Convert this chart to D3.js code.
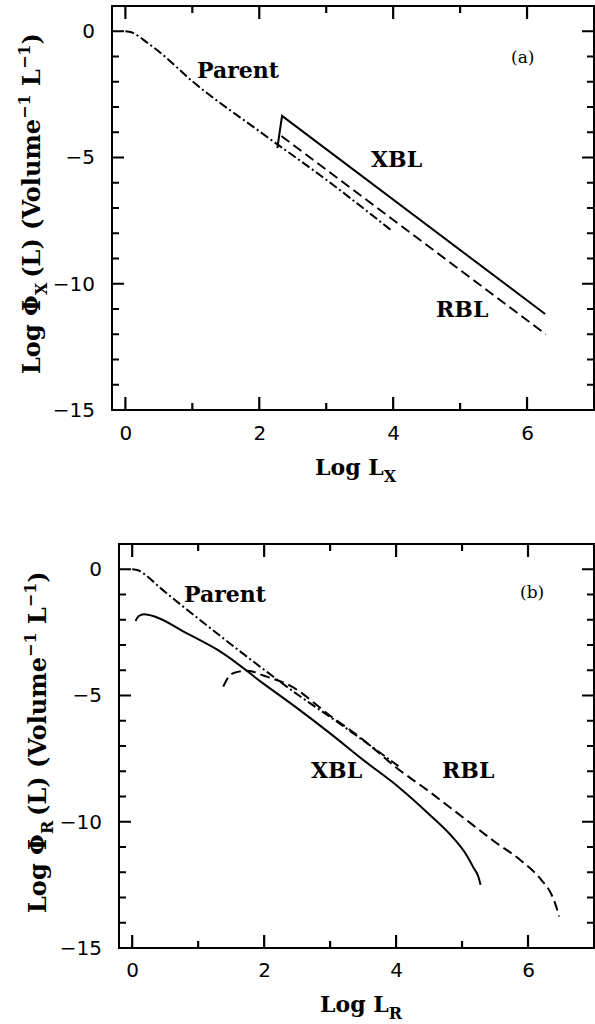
<!DOCTYPE html>
<html>
<head>
<meta charset="utf-8">
<script src="https://cdn.jsdelivr.net/npm/d3@7"></script>
<style>
  body { margin: 0; background: #fff; }
  .tick text { font-family: "DejaVu Sans", sans-serif; font-size: 20px; fill: #000; }
  .lbl { font-family: "DejaVu Serif", serif; font-weight: bold; fill: #000; }
</style>
</head>
<body>
<div id="chart"></div>
<script>
// panel (a): X-ray selected luminosity functions
const parentA = [[0,0],[0.1,-0.05],[0.2,-0.2],[0.3,-0.4],[0.5,-0.8],[1,-1.98],[2,-3.96],[3,-5.88],[3.96,-7.86]];
const xblA = [[2.27,-4.63],[2.34,-3.35],[6.27,-11.2]];
const rblA = [[2.33,-4.15],[6.28,-12.0]];

// panel (b): radio selected luminosity functions
const parentB = [[0,0],[0.1,-0.05],[0.2,-0.22],[0.4,-0.68],[1,-1.95],[2,-3.98],[2.5,-4.95],[3,-5.85],[4.07,-7.86]];
const xblB = [[0.05,-2.05],[0.1,-1.85],[0.18,-1.78],[0.35,-1.88],[0.8,-2.5],[1.36,-3.3],[2.0,-4.55],[2.5,-5.5],
  [3.0,-6.5],[3.5,-7.55],[4.05,-8.65],[4.5,-9.7],[4.87,-10.65],[5.05,-11.25],[5.17,-11.8],[5.25,-12.2],[5.28,-12.5]];
const rblB = [[1.38,-4.65],[1.45,-4.3],[1.55,-4.1],[1.75,-4.02],[2.0,-4.22],[2.4,-4.62],[3.0,-5.8],[3.5,-6.75],
  [4.0,-7.85],[4.5,-8.8],[5.0,-9.8],[5.5,-10.8],[5.9,-11.55],[6.2,-12.3],[6.35,-12.85],[6.42,-13.3],[6.47,-13.75]];

// ticks
const xMajor = [0, 2, 4, 6];
const xMinor = [1, 3, 5];
const yMajor = [0, -5, -10, -15];
const yMinor = [-1, -2, -3, -4, -6, -7, -8, -9, -11, -12, -13, -14];

const width = 595;
const height = 1024;

const dashed = '10,5';
const dashDot = '9,3,2,3';

const svg = d3.select('#chart').append('svg')
  .attr('width', width)
  .attr('height', height);

const panels = [
  { left: 112, right: 594, top: 6, bottom: 410, sub: 'X', tag: '(a)',
    lines: [
      { d: parentA, dash: dashDot, curve: d3.curveMonotoneX },
      { d: xblA, dash: null, curve: d3.curveLinear },
      { d: rblA, dash: dashed, curve: d3.curveLinear }
    ],
    labels: [['Parent', 197, 78], ['XBL', 371, 167], ['RBL', 436, 317]],
    tagPos: [511, 63], titleX: 40, titleY: 374, xTitle: [315, 475], xPad: 16 },
  { left: 119, right: 594, top: 544, bottom: 948, sub: 'R', tag: '(b)',
    lines: [
      { d: parentB, dash: dashDot, curve: d3.curveMonotoneX },
      { d: xblB, dash: null, curve: d3.curveMonotoneX },
      { d: rblB, dash: dashed, curve: d3.curveMonotoneX }
    ],
    labels: [['Parent', 184, 602], ['XBL', 311, 778], ['RBL', 442, 778]],
    tagPos: [520, 598], titleX: 46, titleY: 913, xTitle: [320, 1012], xPad: 15 }
];

const fmt = d => d < 0 ? '\u2212' + Math.abs(d) : String(d);

const drawPanel = p => {
  const x = d3.scaleLinear().domain([-0.2, 7]).range([p.left, p.right]);
  const y = d3.scaleLinear().domain([-15, 1]).range([p.bottom, p.top]);
  const g = svg.append('g');

  g.append('rect')
    .attr('x', p.left).attr('y', p.top)
    .attr('width', p.right - p.left).attr('height', p.bottom - p.top)
    .style('fill', 'none').attr('stroke', '#000').attr('stroke-width', 2);

  // tick labels through d3 axes
  const xa = g.append('g').attr('transform', `translate(0,${p.bottom})`)
    .call(d3.axisBottom(x).tickValues(xMajor).tickSize(0).tickPadding(p.xPad).tickFormat(fmt));
  const ya = g.append('g').attr('transform', `translate(${p.left},0)`)
    .call(d3.axisLeft(y).tickValues(yMajor).tickSize(0).tickPadding(17).tickFormat(fmt));
  xa.select('.domain').remove();
  ya.select('.domain').remove();

  p.lines.forEach(l => {
    const line = d3.line().x(d => x(d[0])).y(d => y(d[1])).curve(l.curve);
    g.append('path')
      .attr('d', line(l.d))
      .attr('fill', 'none')
      .attr('stroke', '#000')
      .attr('stroke-width', 2)
      .attr('stroke-dasharray', l.dash);
  });

  p.labels.forEach(([t, lx, ly]) => {
    g.append('text').attr('class', 'lbl').attr('x', lx).attr('y', ly)
      .style('font-size', '22px').text(t);
  });

  g.append('text')
    .attr('x', p.tagPos[0]).attr('y', p.tagPos[1])
    .style('font-family', '"DejaVu Serif", serif').style('font-size', '17px')
    .text(p.tag);

  // x axis title
  const xtl = g.append('text').attr('class', 'lbl')
    .attr('x', p.xTitle[0]).attr('y', p.xTitle[1])
    .style('font-size', '22px');
  xtl.append('tspan').text('Log  L');
  xtl.append('tspan').attr('dy', 7).style('font-size', '16px').text(p.sub);

  // y axis title (rotated)
  const ytl = g.append('text').attr('class', 'lbl')
    .attr('transform', `translate(${p.titleX},${p.titleY}) rotate(-90)`)
    .style('font-size', '24px');
  ytl.append('tspan').text('Log  \u03A6');
  ytl.append('tspan').attr('dy', 7).style('font-size', '16px').text(p.sub);
  ytl.append('tspan').attr('dy', -7).text('\u2009(L)  (Volume');
  ytl.append('tspan').attr('dy', -10).style('font-size', '16px').text('\u22121');
  ytl.append('tspan').attr('dy', 10).text(' L');
  ytl.append('tspan').attr('dy', -10).style('font-size', '16px').text('\u22121');
  ytl.append('tspan').attr('dy', 10).text(')');

  // inward ticks on all four sides, one path per panel, drawn last
  const tp = d3.path();
  const xt = xMajor.map(v => [v, 13]).concat(xMinor.map(v => [v, 7]));
  const yt = yMajor.map(v => [v, 12]).concat(yMinor.map(v => [v, 7]));
  xt.forEach(([v, len]) => {
    tp.moveTo(x(v), p.bottom); tp.lineTo(x(v), p.bottom - len);
    tp.moveTo(x(v), p.top); tp.lineTo(x(v), p.top + len);
  });
  yt.forEach(([v, len]) => {
    tp.moveTo(p.left, y(v)); tp.lineTo(p.left + len, y(v));
    tp.moveTo(p.right, y(v)); tp.lineTo(p.right - len, y(v));
  });
  svg.append('path')
    .attr('d', tp.toString())
    .attr('fill', 'none')
    .attr('stroke', '#000')
    .attr('stroke-width', 2.2);
};

panels.forEach(drawPanel);
</script>
</body>
</html>
